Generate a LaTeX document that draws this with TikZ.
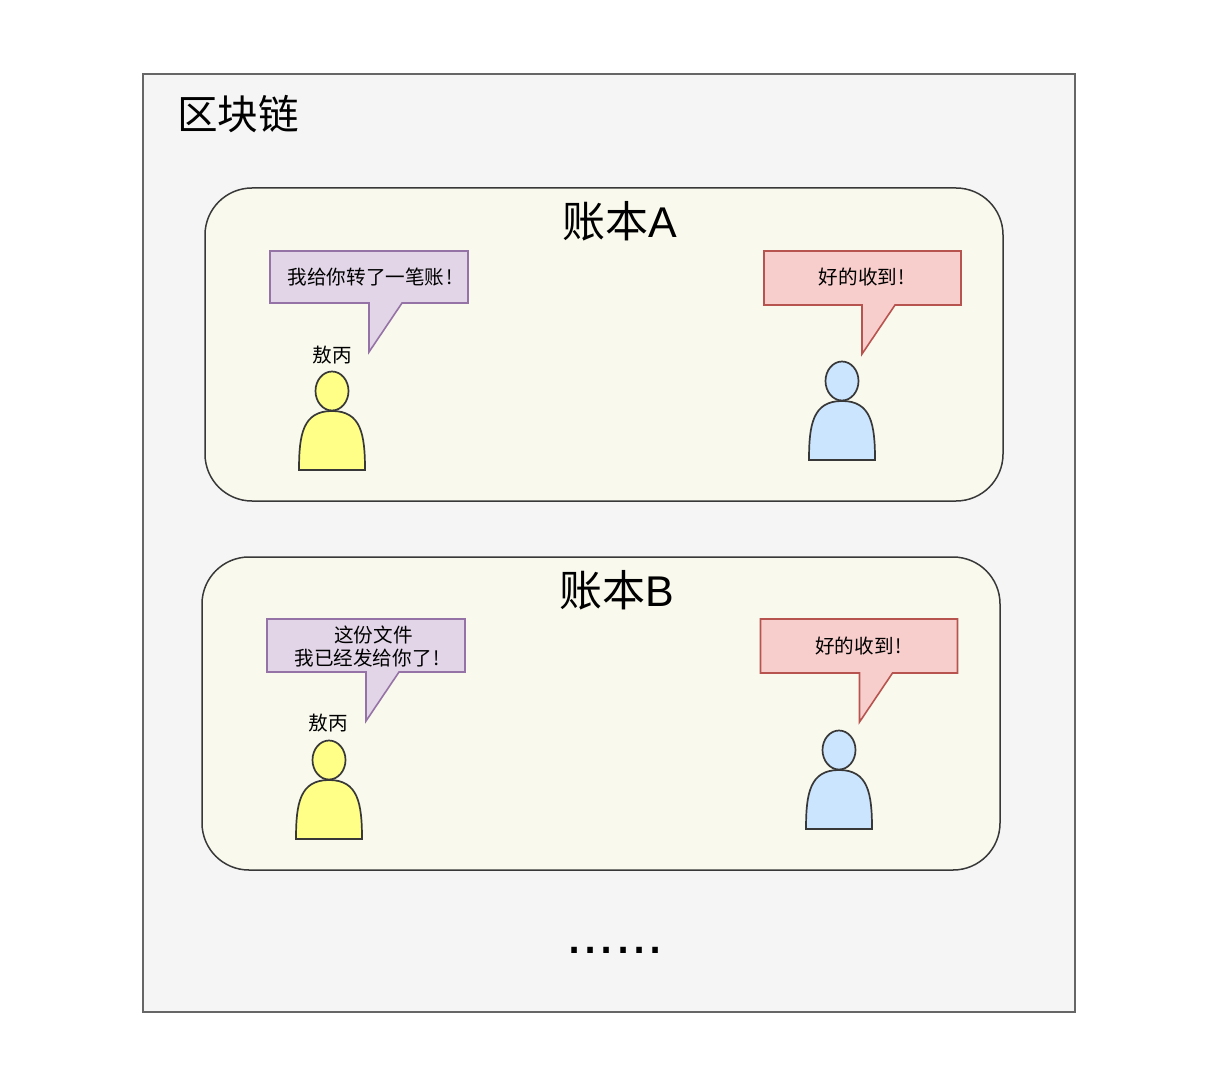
\documentclass[tikz,border=0pt]{standalone}
\usepackage{fontspec}
\setmainfont{Liberation Sans}
\newfontfamily\cjk{Noto Sans CJK SC}
\def\person[#1](#2,#3){
	\draw[#1] ({#2-33}, {#3+59}) .. controls ({#2-33}, {#3+23}) and ({#2-29}, {#3}) .. (#2, #3) .. controls ({#2+29}, {#3}) and ({#2+33}, {#3+23}) .. ({#2+33}, {#3+59}) -- cycle;
	\draw[#1] (#2, {#3-20}) ellipse (16.5 and 19.5);
}
\def\bubble[#1](#2,#3)(#4,#5)(#6){
	\draw[#1] (#2, #3) -- (#4, #3) -- (#4, #5) -- ({#2+#6+33}, #5) -- ({#2+#6}, {#5+49}) -- ({#2+#6}, #5) -- (#2, #5) -- cycle;
}
\definecolor{ledgerfill}{HTML}{F9F9ED}
\definecolor{saypurpleline}{HTML}{9673A6}
\definecolor{saypurplefill}{HTML}{E1D5E7}
\definecolor{sayredline}{HTML}{B85450}
\definecolor{sayredfill}{HTML}{F8CECC}
\definecolor{yellowfill}{HTML}{FFFF88}
\definecolor{bluefill}{HTML}{CCE5FF}
\tikzset{
	outerbox/.style={draw=black!60, fill=black!4, line width=0.7pt},
	ledgerbox/.style={draw=black!78, fill=ledgerfill, line width=0.75pt, rounded corners=23.5pt},
	saypurple/.style={draw=saypurpleline, fill=saypurplefill, line width=0.8pt},
	sayred/.style={draw=sayredline, fill=sayredfill, line width=0.8pt},
	yellowman/.style={draw=black!78, fill=yellowfill, line width=0.85pt},
	blueman/.style={draw=black!78, fill=bluefill, line width=0.85pt},
	saytext/.style={font=\cjk\fontsize{9.8}{11.5}\selectfont, align=center, inner sep=0pt},
	bigtext/.style={font=\cjk\fontsize{21.5}{24}\selectfont, inner sep=0pt}
}
\begin{document}
\begin{tikzpicture}[x=0.5pt, y=-0.5pt]
	\useasboundingbox (0, 0) rectangle (1218, 1080);
	%%%%% START %%%%%
	
	\draw[outerbox] (143, 74) rectangle (1075, 1012);
	\node[inner sep=0pt, font=\cjk\fontsize{20.3}{24}\selectfont] (chain) at (238, 114) {区块链};
	
	%%%%% A %%%%%
	\draw[ledgerbox] (205, 188) rectangle (1003, 501);
	\node[bigtext] (ledgerA) at (620, 221) {账本{\fontspec{Liberation Sans}A}};
	\bubble[saypurple](270, 251)(468, 303)(99);
	\node[saytext] (sayA) at (370, 277) {我给你转了一笔账\kern0.8pt!};
	\bubble[sayred](764, 251)(961, 305)(98);
	\node[saytext] (replyA) at (862, 277) {好的收到\kern0.8pt!};
	\node[saytext] (nameA) at (332, 355) {敖丙};
	\person[yellowman](332, 411);
	\person[blueman](842, 401);
	
	%%%%% B %%%%%
	\draw[ledgerbox] (202, 557) rectangle (1000, 870);
	\node[bigtext] (ledgerB) at (617, 590) {账本{\fontspec{Liberation Sans}B}};
	\bubble[saypurple](267, 619)(465, 672)(99);
	\node[saytext] (sayB) at (367, 647) {\hspace*{6.5pt}这份文件\\我已经发给你了\kern0.8pt!};
	\bubble[sayred](760.5, 619)(957.5, 673)(99);
	\node[saytext] (replyB) at (858.5, 646) {好的收到\kern0.8pt!};
	\node[saytext] (nameB) at (328, 723) {敖丙};
	\person[yellowman](329, 780);
	\person[blueman](839, 770);
	
	\node[inner sep=0pt, font=\fontsize{29}{32}\selectfont] (more) at (615, 950) {......};
	
	%%%%% END %%%%%
\end{tikzpicture}
\end{document}
